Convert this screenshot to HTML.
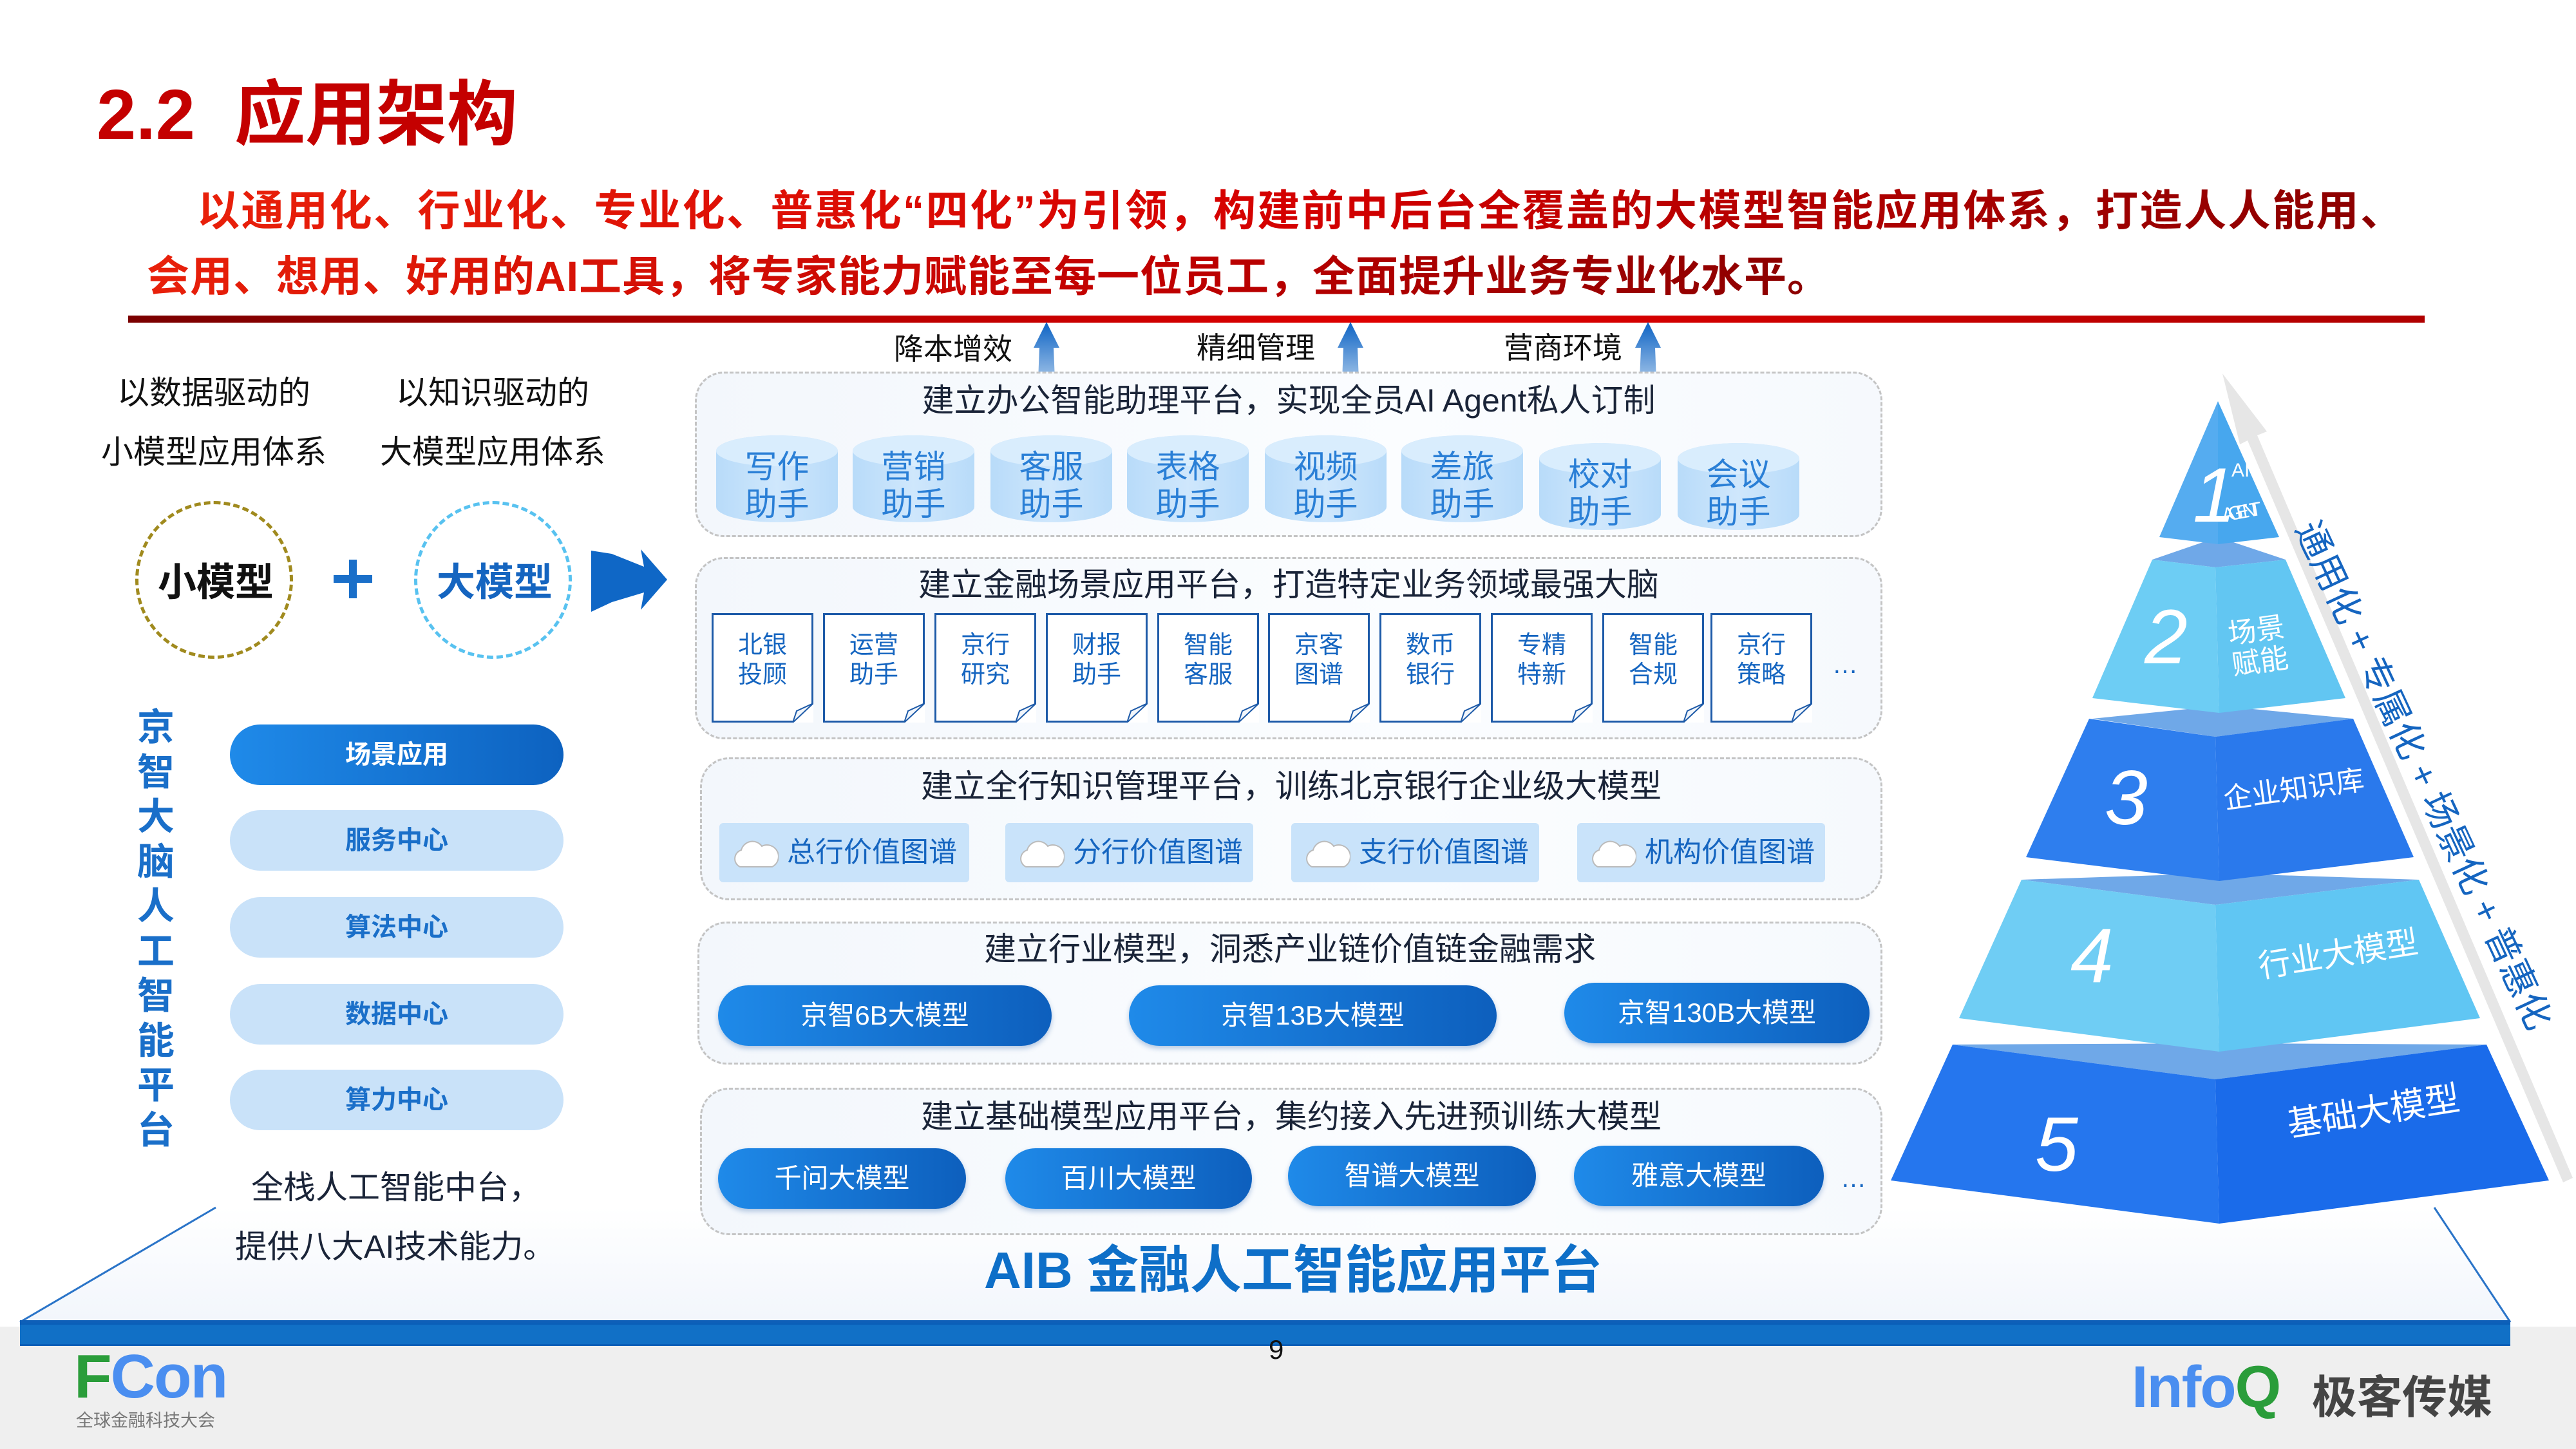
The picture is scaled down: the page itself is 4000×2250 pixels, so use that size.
<!DOCTYPE html>
<html><head><meta charset="utf-8">
<style>
*{margin:0;padding:0;box-sizing:border-box}
body{width:4000px;height:2250px;position:relative;background:#fff;overflow:hidden;font-family:"Liberation Sans","Noto Sans CJK SC",sans-serif}
.a{position:absolute}
.t{position:absolute;white-space:nowrap}
.panel{position:absolute;border:3px dashed #c4c4c4;border-radius:45px;background:linear-gradient(90deg,#f3f7fc,#fbfdff 60%,#f6f9fd)}
.ptitle{position:absolute;left:0;right:0;text-align:center;font-size:50px;color:#1a2438;white-space:nowrap}
.cyl{position:absolute;width:189px;height:135px;border-radius:94px/24px;background:linear-gradient(90deg,#b8dbf9,#cfe7fc 50%,#b8dbf9);text-align:center;color:#2a7fd6;font-size:50px;line-height:58px;padding-top:20px}
.cyl:before{content:"";position:absolute;left:0;top:0;width:189px;height:48px;border-radius:50%;background:#d9edfd}
.cyl span{position:relative}
.doc{position:absolute;width:158px;height:170px;border:3px solid #1d5aa8;background:#fff;text-align:center;color:#1565c0;font-size:38px;line-height:46px;padding-top:24px}
.doc svg{position:absolute;right:-3px;bottom:-3px}
.kb{position:absolute;height:92px;background:#c9e3fa;border-radius:6px;color:#1565c0;font-size:44px;line-height:92px;padding-left:105px}
.kb svg{position:absolute;left:22px;top:22px}
.bp{position:absolute;height:94px;border-radius:47px;background:linear-gradient(90deg,#1f8ae9,#0d5fbd);color:#fff;font-size:42px;line-height:94px;text-align:center;box-shadow:0 4px 8px rgba(20,80,160,.3)}
.lp{position:absolute;left:357px;width:518px;height:94px;border-radius:47px;background:#c9e2f9;color:#1a6fc9;font-size:40px;font-weight:bold;line-height:94px;text-align:center}
</style></head><body>

<!-- title -->
<div class="t" style="left:150px;top:88px;font-size:110px;font-weight:bold;color:#c40000">2.2&nbsp; 应用架构</div>
<div class="t" style="left:306px;top:274px;font-size:66px;font-weight:bold;letter-spacing:2.5px;background:linear-gradient(90deg,#e8200a,#d40000 50%,#8a0000);-webkit-background-clip:text;color:transparent">以通用化、行业化、专业化、普惠化“四化”为引领，构建前中后台全覆盖的大模型智能应用体系，打造人人能用、</div>
<div class="t" style="left:228px;top:376px;font-size:66px;font-weight:bold;letter-spacing:1px;background:linear-gradient(90deg,#e8200a,#c00000 60%,#8a0000);-webkit-background-clip:text;color:transparent">会用、想用、好用的AI工具，将专家能力赋能至每一位员工，全面提升业务专业化水平。</div>
<div class="a" style="left:199px;top:490px;width:3566px;height:11px;background:linear-gradient(90deg,#7a0000,#c00000 35%,#e00000 55%,#b00000)"></div>

<!-- up arrows + labels -->
<svg class="a" style="left:0;top:0" width="4000" height="700">
<defs><linearGradient id="ua" x1="0" y1="0" x2="0" y2="1"><stop offset="0" stop-color="#0c63c4"/><stop offset="1" stop-color="#0c63c4" stop-opacity="0.05"/></linearGradient></defs>
<g fill="url(#ua)">
<polygon points="1625,500 1645,540 1636,540 1640,640 1610,640 1614,540 1605,540"/>
<polygon points="2097,500 2117,540 2108,540 2112,640 2082,640 2086,540 2077,540"/>
<polygon points="2559,500 2579,540 2570,540 2574,640 2544,640 2548,540 2539,540"/>
</g></svg>
<div class="t" style="left:1388px;top:506px;font-size:46px;color:#111">降本增效</div>
<div class="t" style="left:1858px;top:504px;font-size:46px;color:#111">精细管理</div>
<div class="t" style="left:2335px;top:504px;font-size:46px;color:#111">营商环境</div>

<!-- platform trapezoid -->
<svg class="a" style="left:0;top:1850px" width="4000" height="250">
<defs><linearGradient id="pf" x1="0" y1="0" x2="0" y2="1"><stop offset="0" stop-color="#fff"/><stop offset="1" stop-color="#f2f6fc"/></linearGradient></defs>
<polygon points="335,25 3780,25 3898,203 31,203" fill="url(#pf)"/>
<line x1="335" y1="25" x2="31" y2="203" stroke="#2a74c8" stroke-width="3"/>
<line x1="3780" y1="25" x2="3898" y2="203" stroke="#2a74c8" stroke-width="3"/>
<rect x="31" y="200" width="3867" height="6" fill="#0e5fb8"/>
</svg>

<!-- left side -->
<div class="t" style="left:182px;top:570px;font-size:50px;color:#111">以数据驱动的</div>
<div class="t" style="left:157px;top:662px;font-size:50px;color:#111">小模型应用体系</div>
<div class="t" style="left:615px;top:570px;font-size:50px;color:#111">以知识驱动的</div>
<div class="t" style="left:590px;top:662px;font-size:50px;color:#111">大模型应用体系</div>
<div class="a" style="left:210px;top:778px;width:245px;height:245px;border:5px dashed #a08a1e;border-radius:50%"></div>
<div class="t" style="left:245px;top:856px;font-size:60px;font-weight:bold;color:#111">小模型</div>
<div class="a" style="left:643px;top:778px;width:245px;height:245px;border:5px dashed #58c2f0;border-radius:50%"></div>
<div class="t" style="left:678px;top:856px;font-size:60px;font-weight:bold;color:#1565c0">大模型</div>
<div class="a" style="left:518px;top:893px;width:60px;height:12px;background:#1a6fc9"></div>
<div class="a" style="left:542px;top:869px;width:12px;height:60px;background:#1a6fc9"></div>
<svg class="a" style="left:905px;top:830px" width="150" height="150"><polygon points="13,25 45,30 95,50 90,23 131,70 90,117 95,90 45,105 13,120" fill="#0f67c6"/></svg>

<div class="a" style="left:212px;top:1095px;width:60px;font-size:58px;line-height:69.5px;font-weight:bold;color:#1a6fc9;text-align:center">京<br>智<br>大<br>脑<br>人<br>工<br>智<br>能<br>平<br>台</div>
<div class="a" style="left:357px;top:1125px;width:518px;height:94px;border-radius:47px;background:linear-gradient(90deg,#1f8ae9,#0d62c0);color:#fff;font-size:40px;font-weight:bold;line-height:94px;text-align:center">场景应用</div>
<div class="lp" style="top:1258px">服务中心</div>
<div class="lp" style="top:1393px">算法中心</div>
<div class="lp" style="top:1528px">数据中心</div>
<div class="lp" style="top:1661px">算力中心</div>
<div class="t" style="left:390px;top:1804px;font-size:50px;color:#1a2438">全栈人工智能中台，</div>
<div class="t" style="left:365px;top:1896px;font-size:50px;color:#1a2438">提供八大AI技术能力。</div>

<!-- panel 1 -->
<div class="panel" style="left:1079px;top:577px;width:1844px;height:257px"><div class="ptitle" style="top:2px">建立办公智能助理平台，实现全员AI Agent私人订制</div></div>
<div class="cyl" style="left:1112px;top:676px"><span>写作<br>助手</span></div>
<div class="cyl" style="left:1324px;top:676px"><span>营销<br>助手</span></div>
<div class="cyl" style="left:1538px;top:676px"><span>客服<br>助手</span></div>
<div class="cyl" style="left:1750px;top:676px"><span>表格<br>助手</span></div>
<div class="cyl" style="left:1964px;top:676px"><span>视频<br>助手</span></div>
<div class="cyl" style="left:2176px;top:676px"><span>差旅<br>助手</span></div>
<div class="cyl" style="left:2390px;top:688px"><span>校对<br>助手</span></div>
<div class="cyl" style="left:2605px;top:688px"><span>会议<br>助手</span></div>

<!-- panel 2 -->
<div class="panel" style="left:1079px;top:865px;width:1844px;height:283px"><div class="ptitle" style="top:0px">建立金融场景应用平台，打造特定业务领域最强大脑</div></div>
<div class="doc" style="left:1105px;top:952px">北银<br>投顾<svg width="32" height="30"><polygon points="0,30 32,0 32,30" fill="#fff"/><polyline points="0,30 6,12 32,0 0,30" fill="#f2f6fb" stroke="#1d5aa8" stroke-width="2"/></svg></div>
<div class="doc" style="left:1278px;top:952px">运营<br>助手<svg width="32" height="30"><polygon points="0,30 32,0 32,30" fill="#fff"/><polyline points="0,30 6,12 32,0 0,30" fill="#f2f6fb" stroke="#1d5aa8" stroke-width="2"/></svg></div>
<div class="doc" style="left:1451px;top:952px">京行<br>研究<svg width="32" height="30"><polygon points="0,30 32,0 32,30" fill="#fff"/><polyline points="0,30 6,12 32,0 0,30" fill="#f2f6fb" stroke="#1d5aa8" stroke-width="2"/></svg></div>
<div class="doc" style="left:1624px;top:952px">财报<br>助手<svg width="32" height="30"><polygon points="0,30 32,0 32,30" fill="#fff"/><polyline points="0,30 6,12 32,0 0,30" fill="#f2f6fb" stroke="#1d5aa8" stroke-width="2"/></svg></div>
<div class="doc" style="left:1797px;top:952px">智能<br>客服<svg width="32" height="30"><polygon points="0,30 32,0 32,30" fill="#fff"/><polyline points="0,30 6,12 32,0 0,30" fill="#f2f6fb" stroke="#1d5aa8" stroke-width="2"/></svg></div>
<div class="doc" style="left:1969px;top:952px">京客<br>图谱<svg width="32" height="30"><polygon points="0,30 32,0 32,30" fill="#fff"/><polyline points="0,30 6,12 32,0 0,30" fill="#f2f6fb" stroke="#1d5aa8" stroke-width="2"/></svg></div>
<div class="doc" style="left:2142px;top:952px">数币<br>银行<svg width="32" height="30"><polygon points="0,30 32,0 32,30" fill="#fff"/><polyline points="0,30 6,12 32,0 0,30" fill="#f2f6fb" stroke="#1d5aa8" stroke-width="2"/></svg></div>
<div class="doc" style="left:2315px;top:952px">专精<br>特新<svg width="32" height="30"><polygon points="0,30 32,0 32,30" fill="#fff"/><polyline points="0,30 6,12 32,0 0,30" fill="#f2f6fb" stroke="#1d5aa8" stroke-width="2"/></svg></div>
<div class="doc" style="left:2488px;top:952px">智能<br>合规<svg width="32" height="30"><polygon points="0,30 32,0 32,30" fill="#fff"/><polyline points="0,30 6,12 32,0 0,30" fill="#f2f6fb" stroke="#1d5aa8" stroke-width="2"/></svg></div>
<div class="doc" style="left:2656px;top:952px">京行<br>策略<svg width="32" height="30"><polygon points="0,30 32,0 32,30" fill="#fff"/><polyline points="0,30 6,12 32,0 0,30" fill="#f2f6fb" stroke="#1d5aa8" stroke-width="2"/></svg></div>
<div class="t" style="left:2845px;top:1010px;font-size:40px;color:#1565c0">…</div>

<!-- panel 3 -->
<div class="panel" style="left:1087px;top:1176px;width:1836px;height:222px"><div class="ptitle" style="top:2px">建立全行知识管理平台，训练北京银行企业级大模型</div></div>
<div class="kb" style="left:1117px;top:1278px;width:388px"><svg width="70" height="50"><path d="M10,46 a14,14 0 0 1 2,-26 a18,18 0 0 1 32,-6 a14,14 0 0 1 16,32 z" fill="#fff" stroke="#bbb" stroke-width="2"/></svg>总行价值图谱</div>
<div class="kb" style="left:1561px;top:1278px;width:385px"><svg width="70" height="50"><path d="M10,46 a14,14 0 0 1 2,-26 a18,18 0 0 1 32,-6 a14,14 0 0 1 16,32 z" fill="#fff" stroke="#bbb" stroke-width="2"/></svg>分行价值图谱</div>
<div class="kb" style="left:2005px;top:1278px;width:385px"><svg width="70" height="50"><path d="M10,46 a14,14 0 0 1 2,-26 a18,18 0 0 1 32,-6 a14,14 0 0 1 16,32 z" fill="#fff" stroke="#bbb" stroke-width="2"/></svg>支行价值图谱</div>
<div class="kb" style="left:2449px;top:1278px;width:385px"><svg width="70" height="50"><path d="M10,46 a14,14 0 0 1 2,-26 a18,18 0 0 1 32,-6 a14,14 0 0 1 16,32 z" fill="#fff" stroke="#bbb" stroke-width="2"/></svg>机构价值图谱</div>

<!-- panel 4 -->
<div class="panel" style="left:1083px;top:1431px;width:1840px;height:222px"><div class="ptitle" style="top:0px">建立行业模型，洞悉产业链价值链金融需求</div></div>
<div class="bp" style="left:1115px;top:1530px;width:518px">京智6B大模型</div>
<div class="bp" style="left:1753px;top:1530px;width:571px">京智13B大模型</div>
<div class="bp" style="left:2429px;top:1526px;width:474px">京智130B大模型</div>

<!-- panel 5 -->
<div class="panel" style="left:1087px;top:1689px;width:1836px;height:229px"><div class="ptitle" style="top:2px">建立基础模型应用平台，集约接入先进预训练大模型</div></div>
<div class="bp" style="left:1115px;top:1783px;width:385px">千问大模型</div>
<div class="bp" style="left:1561px;top:1783px;width:383px">百川大模型</div>
<div class="bp" style="left:2000px;top:1779px;width:385px">智谱大模型</div>
<div class="bp" style="left:2444px;top:1779px;width:388px">雅意大模型</div>
<div class="t" style="left:2858px;top:1808px;font-size:40px;color:#1565c0">…</div>

<div class="t" style="left:1528px;top:1908px;font-size:80px;font-weight:bold;color:#0e6fc8">AIB 金融人工智能应用平台</div>

<!-- pyramid -->
<svg class="a" style="left:2900px;top:560px" width="1100" height="1400" viewBox="2900 560 1100 1400">
<polygon points="3451,580 3520,670 3505,676 3995,1829 3980,1836 3490,684 3478,690" fill="#e6e6e6"/>
<!-- bands -->
<polygon points="3342,869 3444,834 3549,869 3440,881" fill="#6fa8e8"/>
<polygon points="3249,1116 3446,1096 3654,1116 3440,1144" fill="#6fa8e8"/>
<polygon points="3139,1366 3446,1356 3756,1366 3440,1405" fill="#6fa8e8"/>
<polygon points="3032,1622 3446,1620 3861,1622 3440,1676" fill="#6fa8e8"/>
<!-- L1 -->
<polygon points="3444,623 3353,834 3444,845" fill="#55acf0"/>
<polygon points="3444,623 3539,834 3444,845" fill="#47a7ee"/>
<!-- L2 -->
<polygon points="3342,869 3440,881 3446,1107 3249,1084" fill="#6dcdf4"/>
<polygon points="3440,881 3549,869 3642,1084 3446,1107" fill="#62c6f2"/>
<!-- L3 -->
<polygon points="3244,1116 3440,1144 3446,1368 3146,1331" fill="#2e7eee"/>
<polygon points="3440,1144 3654,1116 3748,1331 3446,1368" fill="#2a79ec"/>
<!-- L4 -->
<polygon points="3139,1366 3440,1405 3446,1633 3042,1581" fill="#6fcdf4"/>
<polygon points="3440,1405 3756,1366 3851,1581 3446,1633" fill="#60c6f3"/>
<!-- L5 -->
<polygon points="3032,1622 3440,1676 3446,1900 2936,1833" fill="#2576ee"/>
<polygon points="3440,1676 3861,1622 3958,1833 3446,1900" fill="#1a6bea"/>
<g fill="#fff" font-family="Liberation Sans, sans-serif" font-style="italic">
<text x="3405" y="810" font-size="120">1</text>
<text x="3330" y="1030" font-size="120">2</text>
<text x="3268" y="1280" font-size="120">3</text>
<text x="3215" y="1525" font-size="120">4</text>
<text x="3160" y="1818" font-size="120">5</text>
</g>
<g fill="#fff" font-family="Liberation Sans, Noto Sans CJK SC, sans-serif">
<text x="3465" y="740" font-size="30">AI</text>
<text x="3452" y="810" font-size="30" textLength="62" transform="rotate(-10 3452 810)">AGENT</text>
<text x="3462" y="1000" font-size="44" transform="rotate(-8 3462 1000)">场景</text>
<text x="3468" y="1048" font-size="44" transform="rotate(-8 3468 1048)">赋能</text>
<text x="3455" y="1256" font-size="44" transform="rotate(-8 3455 1256)">企业知识库</text>
<text x="3510" y="1518" font-size="50" transform="rotate(-9 3510 1518)">行业大模型</text>
<text x="3555" y="1765" font-size="54" transform="rotate(-9 3555 1765)">基础大模型</text>
</g>
<text x="3746" y="1212" font-size="56" fill="#1565c0" text-anchor="middle" font-family="Liberation Sans, Noto Sans CJK SC, sans-serif" transform="rotate(65 3746 1212)">通用化 + 专属化 + 场景化 + 普惠化</text>
</svg>

<!-- footer -->
<div class="a" style="left:0;top:2060px;width:4000px;height:190px;background:#efefef"></div>
<div class="a" style="left:31px;top:2054px;width:3867px;height:36px;background:#1170c6;border-top:3px solid #0a5fb8;border-bottom:3px solid #0a5fb8"></div>
<div class="t" style="left:1970px;top:2072px;font-size:42px;color:#111">9</div>
<div class="t" style="left:115px;top:2083px;font-size:96px;font-weight:bold;letter-spacing:-2px"><span style="color:#2a9d3a">F</span><span style="color:#4a8ef0">Con</span></div>
<div class="t" style="left:118px;top:2184px;font-size:27px;color:#777">全球金融科技大会</div>
<div class="t" style="left:3310px;top:2102px;font-size:92px;font-weight:bold;letter-spacing:-2px"><span style="color:#4a8ef0">Info</span><span style="color:#2a9d3a">Q</span></div>
<div class="t" style="left:3590px;top:2114px;font-size:70px;font-weight:bold;color:#444">极客传媒</div>
</body></html>
